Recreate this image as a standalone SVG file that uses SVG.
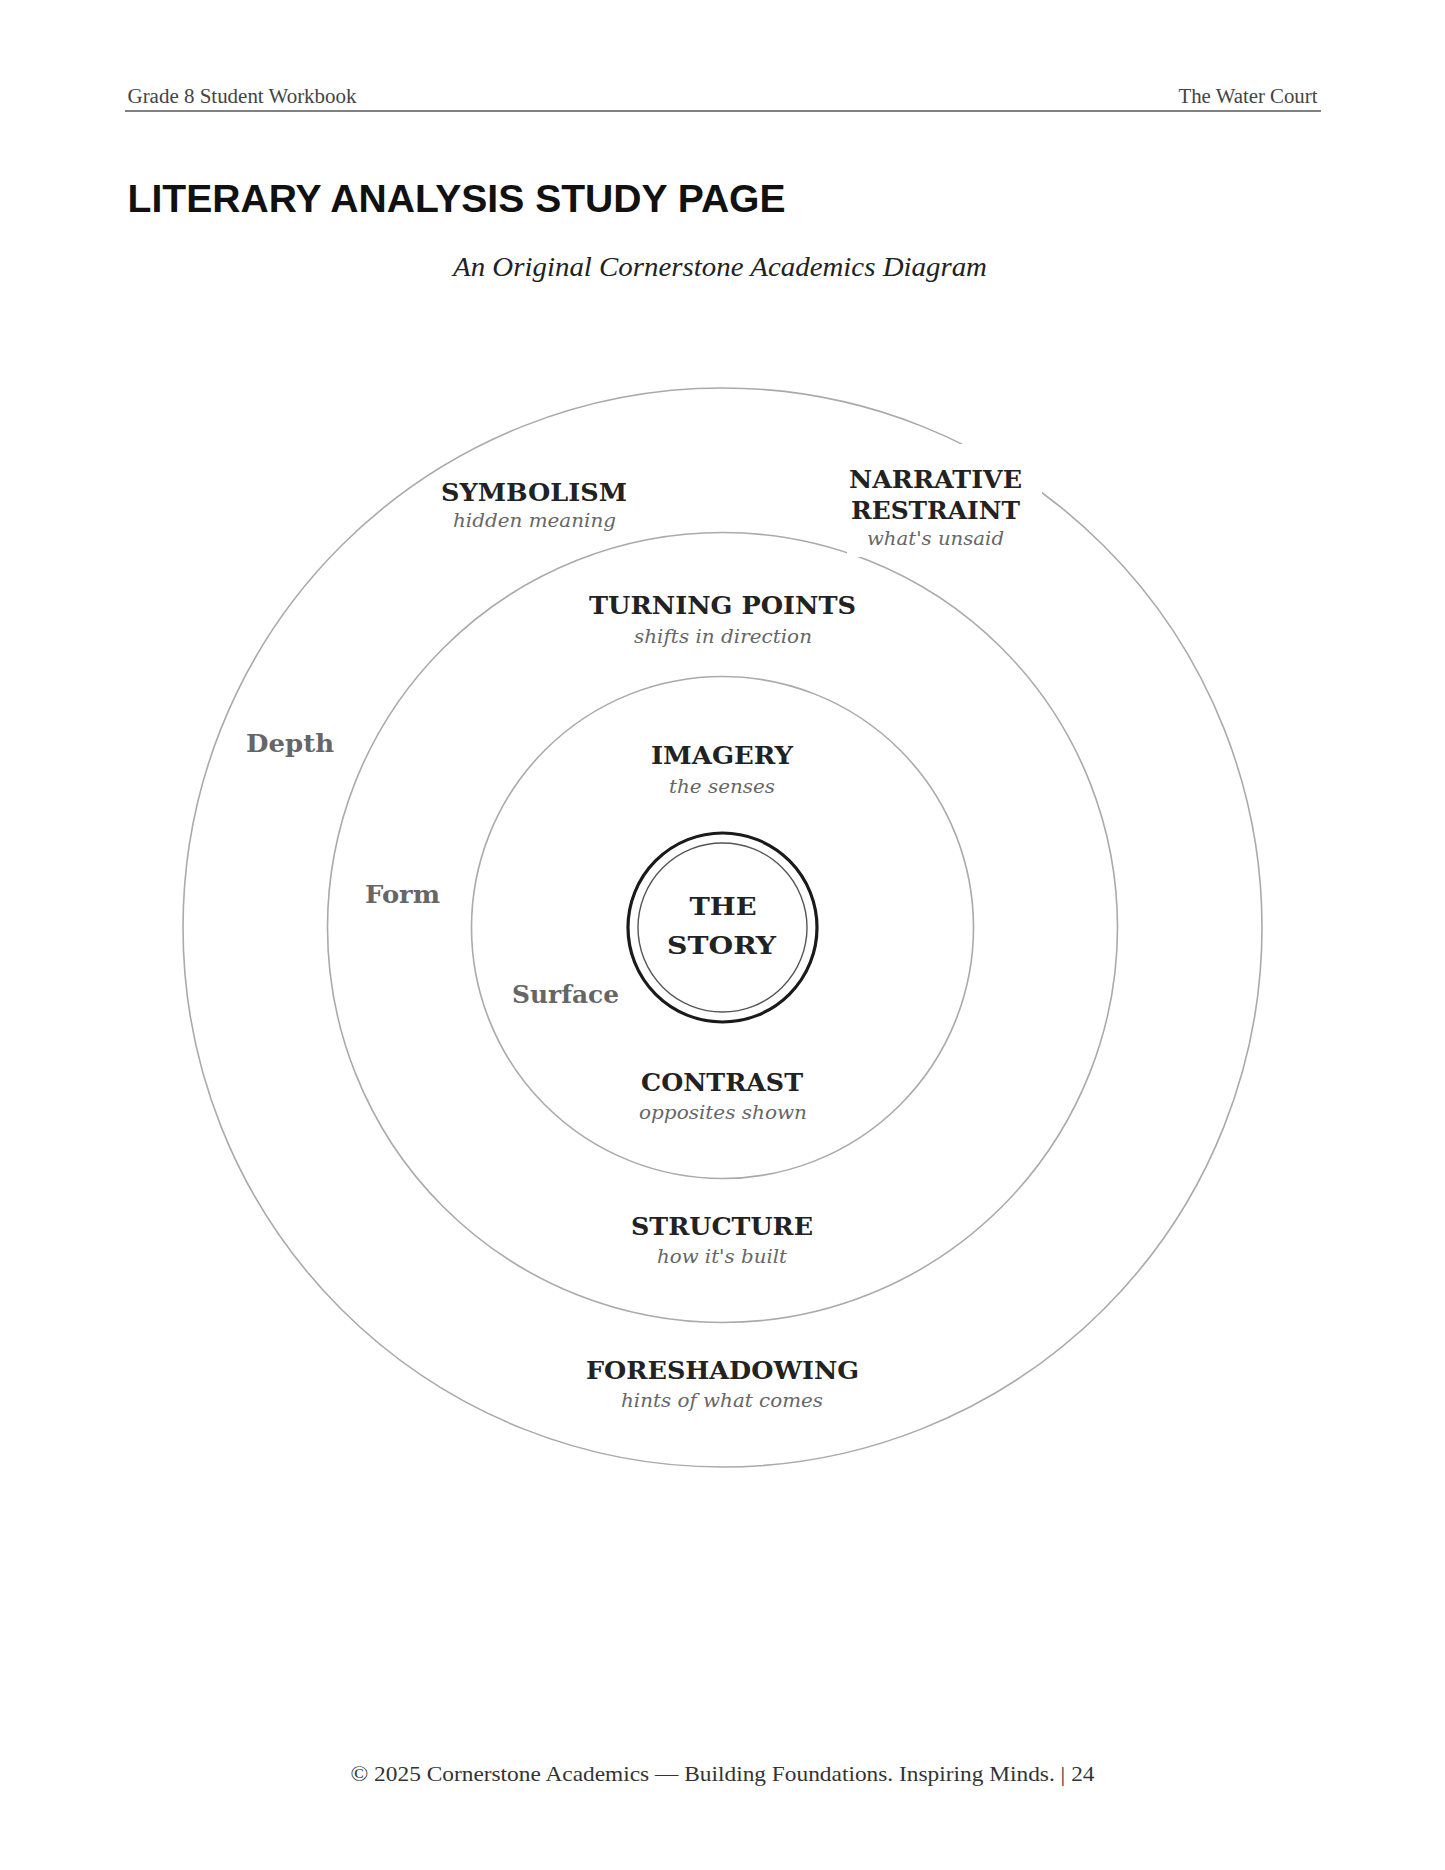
<svg xmlns="http://www.w3.org/2000/svg" width="1445" height="1870" viewBox="0 0 1445 1870">
<style>
.hdr{font-family:"Liberation Serif",serif;font-size:20px;fill:#444}
.ring{fill:none;stroke:#aaaaaa;stroke-width:1.6}
.lbl{font-family:"DejaVu Serif",serif;font-weight:bold;font-size:25px;fill:#222;text-anchor:middle}
.sub{font-family:"DejaVu Serif",serif;font-style:italic;font-size:19px;fill:#666;text-anchor:middle}
.lvl{font-family:"DejaVu Serif",serif;font-weight:bold;font-size:25px;fill:#666}
</style>
<rect width="1445" height="1870" fill="#ffffff"/>
<g id="header">
<text class="hdr" x="127.5" y="102.5" textLength="229" lengthAdjust="spacingAndGlyphs">Grade 8 Student Workbook</text>
<text class="hdr" x="1317.5" y="102.5" text-anchor="end" textLength="139" lengthAdjust="spacingAndGlyphs">The Water Court</text>
<line x1="125" y1="111" x2="1321" y2="111" stroke="#555" stroke-width="1.5"/>
</g>
<text x="127.6" y="212" font-family="Liberation Sans, sans-serif" font-weight="bold" font-size="39" fill="#111" textLength="658" lengthAdjust="spacingAndGlyphs">LITERARY ANALYSIS STUDY PAGE</text>
<text x="720" y="276" font-family="Liberation Serif, serif" font-style="italic" font-size="27" fill="#222" text-anchor="middle" textLength="534" lengthAdjust="spacingAndGlyphs">An Original Cornerstone Academics Diagram</text>
<g id="rings">
<circle class="ring" cx="722.5" cy="927.5" r="539.5"/>
<circle class="ring" cx="722.5" cy="927.5" r="395"/>
<circle class="ring" cx="722.5" cy="927.5" r="251"/>
</g>
<g id="narrative-restraint">
<rect x="847" y="444" width="195" height="113" fill="#ffffff"/>
<text class="lbl" x="935.5" y="488" textLength="173" lengthAdjust="spacingAndGlyphs">NARRATIVE</text>
<text class="lbl" x="935.5" y="518.5" textLength="169" lengthAdjust="spacingAndGlyphs">RESTRAINT</text>
<text class="sub" x="935.5" y="545" textLength="137" lengthAdjust="spacingAndGlyphs">what's unsaid</text>
</g>
<g id="symbolism">
<text class="lbl" x="534" y="501" textLength="186" lengthAdjust="spacingAndGlyphs">SYMBOLISM</text>
<text class="sub" x="534.5" y="527" textLength="163" lengthAdjust="spacingAndGlyphs">hidden meaning</text>
</g>
<g id="turning-points">
<text class="lbl" x="722.5" y="614" textLength="267" lengthAdjust="spacingAndGlyphs">TURNING POINTS</text>
<text class="sub" x="723" y="642.5" textLength="178" lengthAdjust="spacingAndGlyphs">shifts in direction</text>
</g>
<g id="imagery">
<text class="lbl" x="722" y="764" textLength="142" lengthAdjust="spacingAndGlyphs">IMAGERY</text>
<text class="sub" x="722" y="793" textLength="106" lengthAdjust="spacingAndGlyphs">the senses</text>
</g>
<g id="the-story">
<circle cx="722.5" cy="927.5" r="94.5" fill="none" stroke="#1a1a1a" stroke-width="3.2"/>
<circle cx="722.5" cy="927.5" r="84.5" fill="none" stroke="#555" stroke-width="1.4"/>
<text class="lbl" x="723" y="915" font-size="29" textLength="67" lengthAdjust="spacingAndGlyphs">THE</text>
<text class="lbl" x="721.5" y="953.5" font-size="29" textLength="109" lengthAdjust="spacingAndGlyphs">STORY</text>
</g>
<g id="contrast">
<text class="lbl" x="722" y="1090.5" textLength="162" lengthAdjust="spacingAndGlyphs">CONTRAST</text>
<text class="sub" x="723" y="1119.3" textLength="168" lengthAdjust="spacingAndGlyphs">opposites shown</text>
</g>
<g id="structure">
<text class="lbl" x="722" y="1235" textLength="182" lengthAdjust="spacingAndGlyphs">STRUCTURE</text>
<text class="sub" x="722" y="1262.7" textLength="130" lengthAdjust="spacingAndGlyphs">how it's built</text>
</g>
<g id="foreshadowing">
<text class="lbl" x="722.5" y="1379.3" textLength="273" lengthAdjust="spacingAndGlyphs">FORESHADOWING</text>
<text class="sub" x="722" y="1406.7" textLength="202" lengthAdjust="spacingAndGlyphs">hints of what comes</text>
</g>
<g id="levels">
<text class="lvl" x="246" y="751.5" textLength="88" lengthAdjust="spacingAndGlyphs">Depth</text>
<text class="lvl" x="365" y="902.5" textLength="75" lengthAdjust="spacingAndGlyphs">Form</text>
<text class="lvl" x="512" y="1002.5" textLength="107" lengthAdjust="spacingAndGlyphs">Surface</text>
</g>
<text x="722.5" y="1781" font-family="Liberation Serif, serif" font-size="22" fill="#333" text-anchor="middle" textLength="744" lengthAdjust="spacingAndGlyphs">© 2025 Cornerstone Academics — Building Foundations. Inspiring Minds. | 24</text>
</svg>
